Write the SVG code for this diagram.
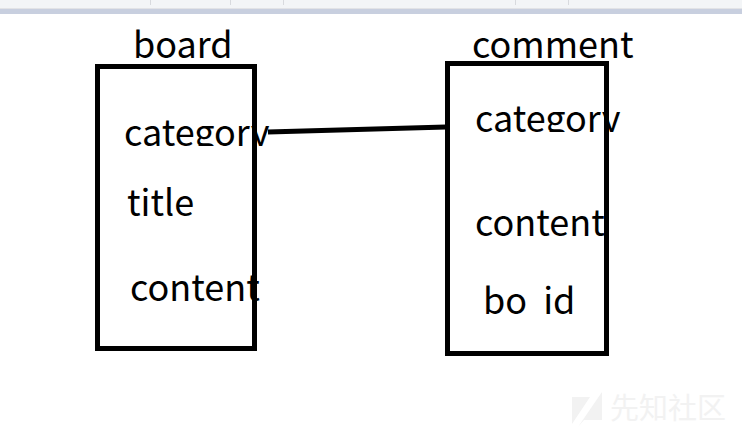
<svg xmlns="http://www.w3.org/2000/svg" width="742" height="431" viewBox="0 0 742 431">
<style>
.t{font-family:"Noto Sans CJK SC","Liberation Sans",sans-serif;font-size:36px;fill:#000}
.box{fill:none;stroke:#000;stroke-width:5}
.sep{stroke:#d8dade;stroke-width:1}
.wm{font-family:"Noto Sans CJK SC",sans-serif;font-size:29px;fill:#f2f2f2}
</style>
<defs>
<clipPath id="c1"><rect x="100" y="100" width="180" height="46"/></clipPath>
<clipPath id="c2"><rect x="450" y="90" width="180" height="42"/></clipPath>
</defs>
<rect width="742" height="431" fill="#fff"/>
<g id="toolbar">
<rect width="742" height="8" fill="#f3f5f7"/>
<rect y="8" width="742" height="1" fill="#e2e3e6"/>
<rect y="9" width="742" height="5" fill="#c8cfdf"/>
<path class="sep" d="M150.500 0V5M230.500 0V5M283.500 0V5M515.500 0V5M568.500 0V5"/>
</g>
<g id="watermark">
<path d="M572 397H590L572 424ZM602 392V420H584L578 427Z" fill="#f2f2f2"/>
<text class="wm" x="610" y="419">先知社区</text>
</g>
<g id="connectors">
<path d="M268 132L446 127" stroke="#000" stroke-width="5" fill="none"/>
</g>
<g id="board">
<rect class="box" x="97.500" y="66.500" width="157" height="282"/>
<text class="t" x="133" y="58">board</text>
<text class="t" x="124" y="146" clip-path="url(#c1)">category</text>
<text class="t" x="127" y="216">title</text>
<text class="t" x="130" y="301">content</text>
</g>
<g id="comment">
<rect class="box" x="447.500" y="63.500" width="159" height="290"/>
<text class="t" x="472" y="58">comment</text>
<text class="t" x="475" y="132" clip-path="url(#c2)">category</text>
<text class="t" x="475" y="236">content</text>
<text class="t" x="483" y="314" word-spacing="8">bo id</text>
</g>
</svg>
